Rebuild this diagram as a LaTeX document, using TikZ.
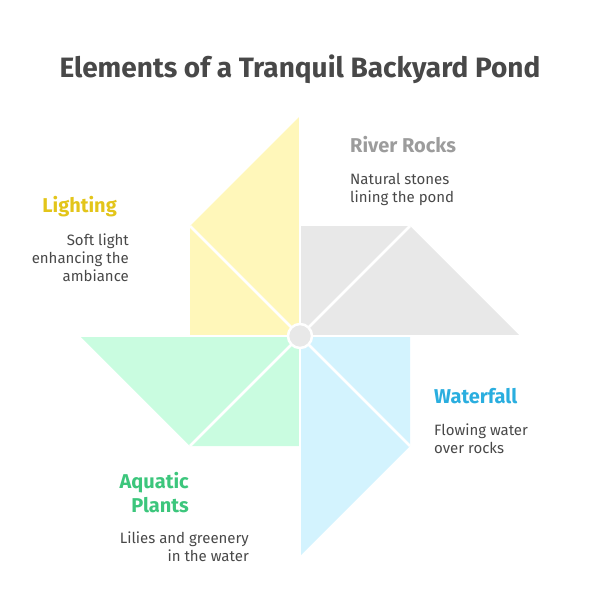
\documentclass[tikz,border=0pt]{standalone}
\usepackage{fontspec}
\setmainfont{Fira Sans}
\usetikzlibrary{positioning}
\definecolor{titlegray}{HTML}{484848}
\definecolor{rockfill}{HTML}{E8E8E8}
\definecolor{lightfill}{HTML}{FFF7BA}
\definecolor{plantfill}{HTML}{C9FCE0}
\definecolor{waterfill}{HTML}{D3F3FE}
\definecolor{rockhead}{HTML}{9C9C9C}
\definecolor{lighthead}{HTML}{E3C51A}
\definecolor{waterhead}{HTML}{2AAEDF}
\definecolor{planthead}{HTML}{3CC67C}

\begin{document}
\begin{tikzpicture}[x=1pt,y=-1pt,
   divider/.style={white,line width=2.5pt},
   heading/.style={font=\bfseries\fontsize{20}{24}\selectfont,inner sep=0pt},
   desc/.style={font=\fontsize{15}{18}\selectfont,text=titlegray,inner sep=0pt},
   hubdot/.style={circle,fill=rockfill,draw=white,line width=2.5pt,minimum size=24pt,inner sep=0pt}]
   \useasboundingbox (0,0) rectangle (600,613);
   \node[font=\bfseries\fontsize{28}{30}\selectfont,text=titlegray,anchor=base] (title) at (300,77) {Elements of a Tranquil Backyard Pond};

   \coordinate (hub) at (300,336);
   % blades
   \fill[rockfill] (hub) -- ++(0,-110) -- ++(110,0) -- ++(110,110) -- cycle;
   \fill[lightfill] (hub) -- ++(0,-220) -- ++(-110,110) -- ++(0,110) -- cycle;
   \fill[plantfill] (hub) -- ++(-220,0) -- ++(110,110) -- ++(110,0) -- cycle;
   \fill[waterfill] (hub) -- ++(0,220) -- ++(110,-110) -- ++(0,-110) -- cycle;
   \draw[divider] (hub) -- ++(0,-220) (hub) -- ++(0,220)
                  (hub) -- ++(-220,0) (hub) -- ++(220,0);
   \draw[divider] (hub) -- ++(110,-110) (hub) -- ++(-110,-110)
                  (hub) -- ++(-110,110) (hub) -- ++(110,110);
   \node[hubdot] (center) at (hub) {};

   % labels (base = last line)
   \node[heading,text=rockhead,anchor=base west] (rocks) at (350,152) {River Rocks};
   \node[desc,align=left,anchor=base west] (rocksdesc) at (350,202) {Natural stones\\lining the pond};
   \node[heading,text=lighthead,anchor=base east] (lighting) at (117,212) {Lighting};
   \node[desc,align=right,anchor=base east] (lightingdesc) at (129,281) {Soft light\\enhancing the\\ambiance};
   \node[heading,text=waterhead,anchor=base west] (waterfall) at (434,403) {Waterfall};
   \node[desc,align=left,anchor=base west] (waterfalldesc) at (434,453) {Flowing water\\over rocks};
   \node[heading,text=planthead,align=right,anchor=base east] (plants) at (189,512) {Aquatic\\Plants};
   \node[desc,align=right,anchor=base east] (plantsdesc) at (249,561) {Lilies and greenery\\in the water};
\end{tikzpicture}
\end{document}
